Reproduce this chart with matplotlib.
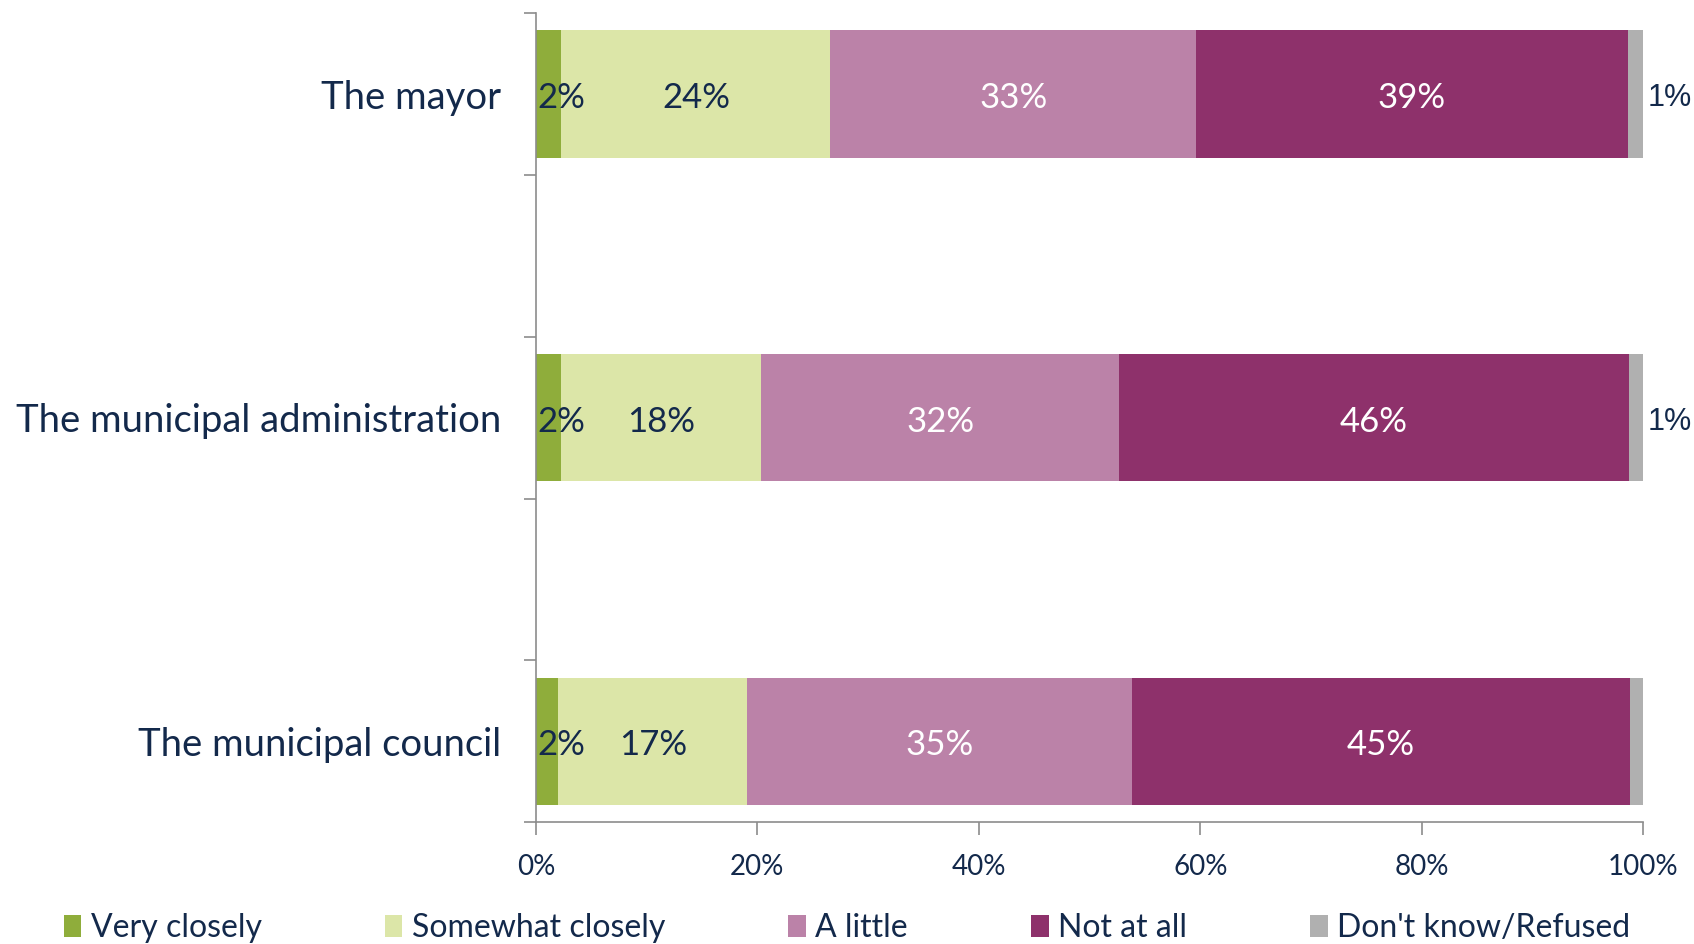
import matplotlib
matplotlib.use("Agg")
import matplotlib.pyplot as plt
import numpy as np

plt.rcParams['font.family'] = ['Lato', 'DejaVu Sans']

categorias = ["The mayor", "The municipal administration", "The municipal council"]
series = ["Very closely", "Somewhat closely", "A little", "Not at all", "Don't know/Refused"]
# valores (em %)
very_closely = [2.3, 2.3, 2.0]
somewhat_closely = [24.3, 18.0, 17.1]
a_little = [33.0, 32.4, 34.7]
not_at_all = [39.0, 46.0, 45.0]
dont_know = [1.4, 1.3, 1.3]

cores = ["#8fad3b", "#dce6a8", "#bb82a8", "#8e316b", "#b0b0b0"]
cor_texto = ["#13294b", "#13294b", "white", "white", "#13294b"]
navy = "#13294b"

dados = [very_closely, somewhat_closely, a_little, not_at_all, dont_know]
y = np.array([2, 1, 0])

fig = plt.figure(figsize=(16.94, 9.44), dpi=100)
ax = fig.add_axes([0.3164, 0.129, 0.6536, 0.857])

esquerda = np.zeros(3)
for k, vals in enumerate(dados):
    vals = np.array(vals)
    ax.barh(y, vals, left=esquerda, height=0.394, color=cores[k], label=series[k])
    for i in range(3):
        txt = "%d%%" % round(vals[i])
        if k == 0:
            ax.annotate(txt, (esquerda[i], y[i]), xytext=(1, -3), textcoords='offset points',
                        ha='left', va='center', fontsize=25, color=cor_texto[k])
        elif k == 4:
            ax.annotate(txt, (esquerda[i] + vals[i], y[i]), xytext=(3, -3),
                        textcoords='offset points', ha='left', va='center',
                        fontsize=22, color=cor_texto[k], family=['Liberation Sans'])
        else:
            ax.annotate(txt, (esquerda[i] + vals[i] / 2, y[i]), xytext=(0, -3),
                        textcoords='offset points', ha='center', va='center',
                        fontsize=25, color=cor_texto[k])
    esquerda = esquerda + vals

ax.set_xlim(0, 100)
ax.set_ylim(-0.25, 2.25)
ax.set_xticks([0, 20, 40, 60, 80, 100])
ax.set_xticklabels(["0%", "20%", "40%", "60%", "80%", "100%"])
ax.set_yticks(y)
ax.set_yticklabels(categorias)
ax.set_yticks([-0.25, 0.25, 0.75, 1.25, 1.75, 2.25], minor=True)

for s in ["top", "right"]:
    ax.spines[s].set_visible(False)
for s in ["left", "bottom"]:
    ax.spines[s].set_color("#8c8c8c")
    ax.spines[s].set_linewidth(1.2)

ax.tick_params(axis='y', which='major', length=0, pad=25, labelsize=27.5, labelcolor=navy)
ax.tick_params(axis='y', which='minor', length=9, color="#8c8c8c", width=1.2)
ax.tick_params(axis='x', which='major', length=9, color="#8c8c8c", width=1.2,
               pad=14, labelsize=20, labelcolor=navy)

leg = fig.legend(loc='center', bbox_to_anchor=(0.5, 0.017), ncol=5, frameon=False,
                 fontsize=23, handlelength=0.55, handleheight=0.7, handletextpad=0.3,
                 columnspacing=3.85, labelcolor=navy)

fig.savefig("out.png", dpi=100)
